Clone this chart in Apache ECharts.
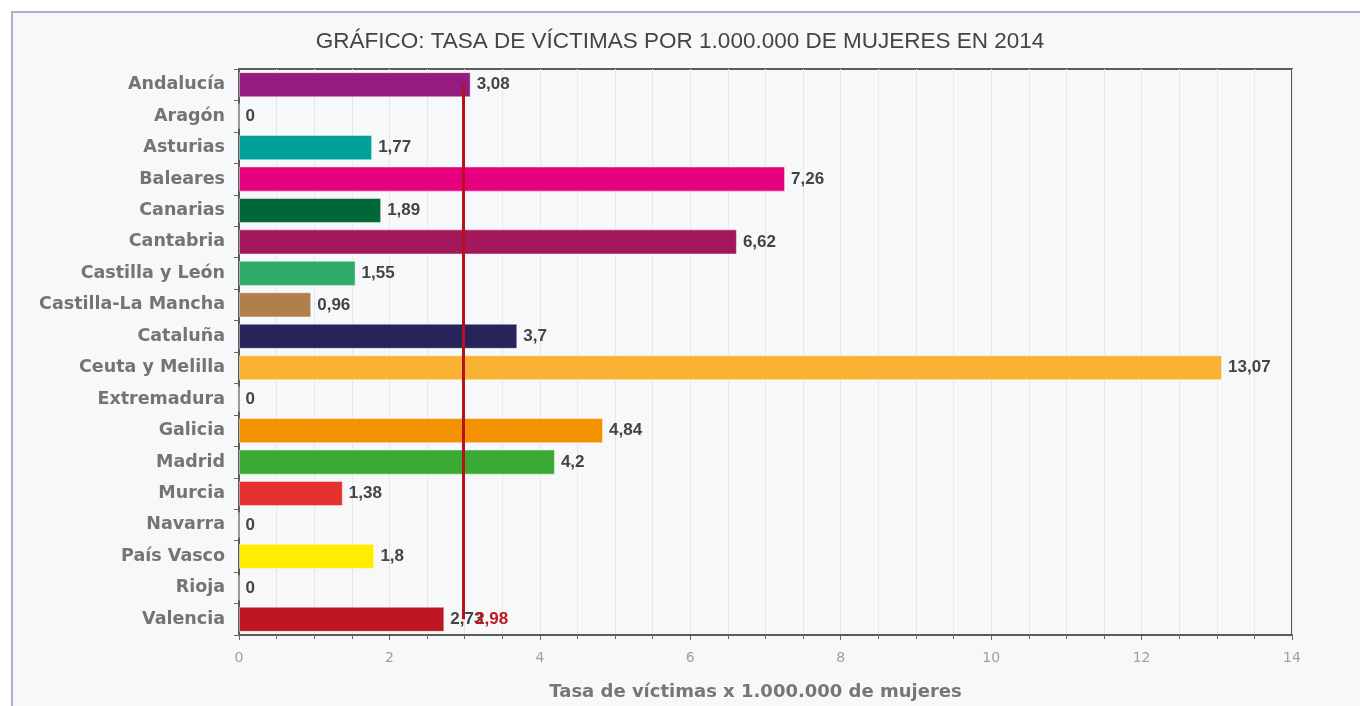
<!DOCTYPE html>
<html>
<head>
<meta charset="utf-8">
<script src="https://cdn.jsdelivr.net/npm/echarts@6/dist/echarts.min.js"></script>
<style>
  html, body { margin: 0; padding: 0; background: #ffffff; overflow: hidden; }
  #frame { position: absolute; left: 11px; top: 11px; width: 1400px; height: 800px; border: 2px solid #aab2c4; background: #f7f8fa; }
  #chart { position: absolute; left: 0; top: 0; width: 1360px; height: 706px; }
</style>
</head>
<body>
<div id="frame"></div>
<div id="chart"></div>
<script>
  const regions = ['Andalucía', 'Aragón', 'Asturias', 'Baleares', 'Canarias', 'Cantabria', 'Castilla y León',
    'Castilla-La Mancha', 'Cataluña', 'Ceuta y Melilla', 'Extremadura', 'Galicia', 'Madrid', 'Murcia',
    'Navarra', 'País Vasco', 'Rioja', 'Valencia'];
  const rates = [3.08, 0, 1.77, 7.26, 1.89, 6.62, 1.55, 0.96, 3.7, 13.07, 0, 4.84, 4.2, 1.38, 0, 1.8, 0, 2.73];
  const barColors = ['#951b7f', '#999999', '#00a19a', '#e6007e', '#006838', '#a3185a', '#2eab67',
    '#b07f4c', '#29235c', '#f9b233', '#999999', '#f39200', '#3aaa35', '#e3312d', '#999999', '#ffed00',
    '#999999', '#be1622'];
  const average = 2.98;
  const xTicks = [0, 2, 4, 6, 8, 10, 12, 14];

  const comma = v => String(v).replace('.', ',');

  const chart = echarts.init(document.getElementById('chart'));
  chart.setOption({
    animation: false,
    title: {
      text: 'GRÁFICO: TASA DE VÍCTIMAS POR 1.000.000 DE MUJERES EN 2014',
      left: 'center', top: 25,
      textStyle: { fontFamily: 'Liberation Sans', fontSize: 22.5, fontWeight: 'normal', color: '#444444' }
    },
    grid: { left: 239, right: 68, top: 69, bottom: 68, show: true, borderColor: '#5a5a5a', borderWidth: 2, backgroundColor: 'transparent' },
    xAxis: {
      type: 'value', min: xTicks[0], max: xTicks[xTicks.length - 1], interval: 2,
      name: 'Tasa de víctimas x 1.000.000 de mujeres', nameLocation: 'middle', nameGap: 48,
      nameTextStyle: { fontFamily: 'DejaVu Sans', fontSize: 18, fontWeight: 'bold', color: '#767676', padding: [0, 20, 0, 0] },
      axisLine: { show: true, lineStyle: { color: '#5a5a5a', width: 2 } },
      axisTick: { show: true, length: 5, lineStyle: { color: '#666666' } },
      minorTick: { show: true, splitNumber: 4, length: 4, lineStyle: { color: '#666666' } },
      axisLabel: { fontFamily: 'DejaVu Sans', fontSize: 14, color: '#a0a0a0', margin: 16 },
      splitLine: { show: true, lineStyle: { color: '#e6e8eb' } },
      minorSplitLine: { show: true, lineStyle: { color: '#e6e8eb' } }
    },
    yAxis: {
      type: 'category', data: regions, inverse: true,
      axisLine: { show: true, lineStyle: { color: '#5a5a5a', width: 2 } },
      axisTick: { show: true, length: 5, lineStyle: { color: '#666666' } },
      axisLabel: { interval: 0, fontFamily: 'DejaVu Sans', fontSize: 17.5, fontWeight: 'bold', color: '#747474', margin: 14 }
    },
    series: [{
      type: 'bar',
      data: rates.map((v, i) => ({ value: v, itemStyle: { color: barColors[i] } })),
      barCategoryGap: '20%',
      itemStyle: { borderColor: 'rgba(255,255,255,0.45)', borderWidth: 1 },
      label: {
        show: true, position: 'right', distance: 6,
        fontFamily: 'Liberation Sans', fontSize: 17, fontWeight: 'bold', color: '#444444',
        formatter: p => comma(p.value)
      },
      markLine: {
        silent: true, symbol: 'none',
        lineStyle: { color: '#b5121b', width: 3, type: 'solid' },
        label: { show: false },
        data: [[{ coord: [average, regions[0]] }, { coord: [average, regions[regions.length - 1]] }]]
      },
      markPoint: {
        silent: true, symbol: 'circle', symbolSize: 0,
        label: {
          show: true, position: 'right', distance: 12,
          fontFamily: 'Liberation Sans', fontSize: 17, fontWeight: 'bold', color: '#c0161f',
          formatter: () => comma(average)
        },
        data: [{ coord: [average, regions[regions.length - 1]] }]
      }
    }]
  });
</script>
</body>
</html>
